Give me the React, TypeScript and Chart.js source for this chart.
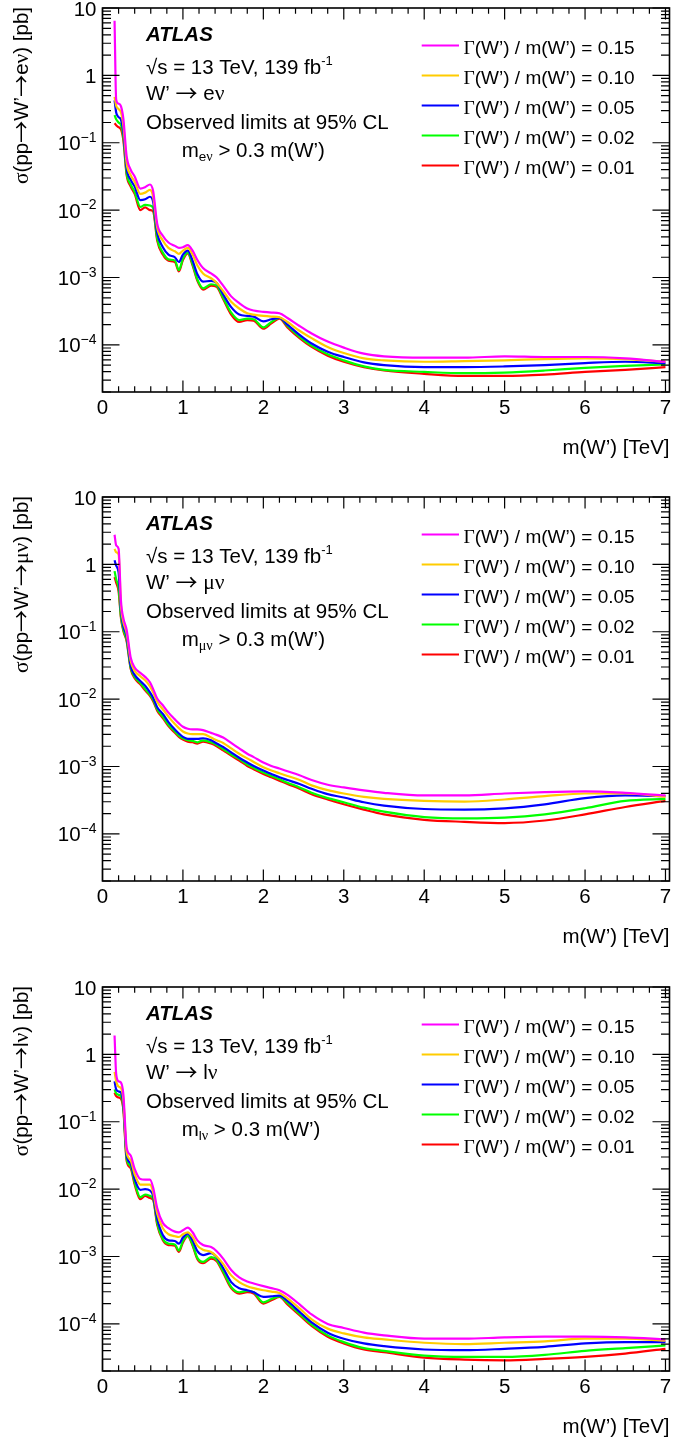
import React, { useEffect, useRef } from "react";
import { Chart, registerables } from "chart.js";

Chart.register(...registerables);

const SANS = '"Liberation Sans", Arial, Helvetica, sans-serif';
const SERIF = '"Liberation Serif", "Times New Roman", serif';
const ARROW_FONT = '"Noto Sans CJK JP", "DejaVu Sans", sans-serif';

// ---------------- data ----------------
const MASS_TEV = [0.15, 0.17, 0.2, 0.23, 0.26, 0.3, 0.35, 0.4, 0.47, 0.53, 0.59, 0.63, 0.68, 0.75, 0.82, 0.9, 0.95, 1.0, 1.06, 1.12, 1.18, 1.25, 1.35, 1.42, 1.5, 1.6, 1.7, 1.8, 1.88, 2.0, 2.1, 2.2, 2.3, 2.45, 2.6, 2.8, 3.0, 3.25, 3.5, 4.0, 4.5, 5.0, 5.5, 6.0, 6.5, 7.0];

// W' -> e nu
const EV_015 = [6.46, 0.437, 0.38, 0.347, 0.224, 0.0631, 0.0398, 0.0316, 0.0209, 0.0219, 0.024, 0.0191, 6.31e-3, 4.17e-3, 3.31e-3, 2.95e-3, 2.75e-3, 2.82e-3, 3.02e-3, 2.51e-3, 1.82e-3, 1.38e-3, 1.15e-3, 1.0e-3, 7.59e-4, 5.25e-4, 4.17e-4, 3.47e-4, 3.24e-4, 3.09e-4, 3.02e-4, 2.95e-4, 2.51e-4, 1.91e-4, 1.48e-4, 1.12e-4, 9.12e-5, 7.41e-5, 6.76e-5, 6.46e-5, 6.46e-5, 6.76e-5, 6.61e-5, 6.61e-5, 6.31e-5, 5.62e-5];
const EV_010 = [0.479, 0.355, 0.316, 0.282, 0.178, 0.0501, 0.0331, 0.0263, 0.0174, 0.0182, 0.02, 0.0158, 5.5e-3, 3.55e-3, 2.75e-3, 2.45e-3, 2.24e-3, 2.51e-3, 2.75e-3, 2.19e-3, 1.51e-3, 1.15e-3, 9.77e-4, 8.32e-4, 6.31e-4, 4.37e-4, 3.47e-4, 2.95e-4, 2.82e-4, 2.69e-4, 2.63e-4, 2.57e-4, 2.19e-4, 1.62e-4, 1.26e-4, 9.33e-5, 7.59e-5, 6.31e-5, 5.89e-5, 5.62e-5, 5.75e-5, 5.89e-5, 6.17e-5, 6.31e-5, 6.17e-5, 5.62e-5];
const EV_005 = [0.427, 0.282, 0.24, 0.219, 0.141, 0.0417, 0.0282, 0.0224, 0.0141, 0.0145, 0.0158, 0.0132, 4.57e-3, 2.82e-3, 2.19e-3, 2.0e-3, 1.7e-3, 2.19e-3, 2.51e-3, 1.78e-3, 1.12e-3, 8.71e-4, 8.91e-4, 8.32e-4, 5.62e-4, 3.63e-4, 2.82e-4, 2.69e-4, 2.63e-4, 2.24e-4, 2.4e-4, 2.51e-4, 2.0e-4, 1.41e-4, 1.05e-4, 7.94e-5, 6.61e-5, 5.5e-5, 5.01e-5, 4.68e-5, 4.68e-5, 4.79e-5, 5.01e-5, 5.37e-5, 5.62e-5, 5.37e-5];
const EV_002 = [0.257, 0.224, 0.2, 0.182, 0.12, 0.0355, 0.024, 0.0186, 0.0112, 0.012, 0.0117, 0.0107, 3.8e-3, 2.34e-3, 1.86e-3, 1.78e-3, 1.29e-3, 1.91e-3, 2.34e-3, 1.58e-3, 9.33e-4, 6.92e-4, 7.94e-4, 7.59e-4, 5.01e-4, 3.02e-4, 2.34e-4, 2.45e-4, 2.4e-4, 1.82e-4, 2.19e-4, 2.51e-4, 1.91e-4, 1.32e-4, 9.77e-5, 7.24e-5, 5.89e-5, 4.79e-5, 4.27e-5, 3.98e-5, 3.8e-5, 3.89e-5, 4.17e-5, 4.57e-5, 4.9e-5, 5.13e-5];
const EV_001 = [0.195, 0.182, 0.17, 0.158, 0.107, 0.0331, 0.0224, 0.0174, 0.01, 0.011, 0.01, 9.55e-3, 3.55e-3, 2.19e-3, 1.78e-3, 1.7e-3, 1.23e-3, 1.82e-3, 2.29e-3, 1.51e-3, 8.91e-4, 6.61e-4, 7.59e-4, 7.24e-4, 4.79e-4, 2.82e-4, 2.19e-4, 2.34e-4, 2.29e-4, 1.74e-4, 2.09e-4, 2.45e-4, 1.82e-4, 1.26e-4, 9.33e-5, 6.92e-5, 5.62e-5, 4.68e-5, 4.17e-5, 3.72e-5, 3.47e-5, 3.47e-5, 3.63e-5, 3.98e-5, 4.27e-5, 4.68e-5];

// W' -> mu nu
const MU_015 = [2.75, 1.91, 1.7, 0.282, 0.158, 0.107, 0.0417, 0.0295, 0.0245, 0.0214, 0.0178, 0.0141, 0.0102, 8.13e-3, 6.31e-3, 5.01e-3, 4.37e-3, 3.89e-3, 3.63e-3, 3.55e-3, 3.55e-3, 3.47e-3, 3.16e-3, 2.95e-3, 2.69e-3, 2.24e-3, 1.86e-3, 1.55e-3, 1.38e-3, 1.15e-3, 1.02e-3, 9.33e-4, 8.51e-4, 7.41e-4, 6.31e-4, 5.37e-4, 4.9e-4, 4.42e-4, 4.07e-4, 3.72e-4, 3.72e-4, 3.98e-4, 4.17e-4, 4.27e-4, 4.07e-4, 3.72e-4];
const MU_010 = [1.7, 1.51, 1.41, 0.24, 0.138, 0.0955, 0.0372, 0.0263, 0.0219, 0.0191, 0.0155, 0.0126, 9.12e-3, 7.08e-3, 5.5e-3, 4.27e-3, 3.72e-3, 3.31e-3, 3.09e-3, 3.02e-3, 3.02e-3, 3.02e-3, 2.69e-3, 2.45e-3, 2.24e-3, 1.86e-3, 1.55e-3, 1.32e-3, 1.17e-3, 9.77e-4, 8.71e-4, 7.94e-4, 7.24e-4, 6.31e-4, 5.25e-4, 4.47e-4, 3.98e-4, 3.55e-4, 3.31e-4, 3.09e-4, 3.02e-4, 3.24e-4, 3.63e-4, 3.98e-4, 3.98e-4, 3.55e-4];
const MU_005 = [1.15, 0.955, 0.759, 0.2, 0.12, 0.0851, 0.0316, 0.0229, 0.0186, 0.0158, 0.0126, 0.0105, 7.59e-3, 6.03e-3, 4.57e-3, 3.55e-3, 3.09e-3, 2.75e-3, 2.57e-3, 2.57e-3, 2.57e-3, 2.63e-3, 2.45e-3, 2.19e-3, 1.95e-3, 1.62e-3, 1.35e-3, 1.15e-3, 1.02e-3, 8.71e-4, 7.76e-4, 6.92e-4, 6.31e-4, 5.5e-4, 4.68e-4, 3.89e-4, 3.47e-4, 2.95e-4, 2.63e-4, 2.34e-4, 2.29e-4, 2.4e-4, 2.75e-4, 3.39e-4, 3.72e-4, 3.63e-4];
const MU_002 = [0.794, 0.603, 0.447, 0.166, 0.107, 0.0759, 0.0295, 0.0214, 0.0174, 0.0141, 0.0117, 9.77e-3, 7.08e-3, 5.5e-3, 4.17e-3, 3.31e-3, 2.88e-3, 2.63e-3, 2.45e-3, 2.4e-3, 2.29e-3, 2.45e-3, 2.29e-3, 2.09e-3, 1.82e-3, 1.51e-3, 1.29e-3, 1.07e-3, 9.55e-4, 8.13e-4, 7.24e-4, 6.46e-4, 5.75e-4, 4.9e-4, 4.07e-4, 3.39e-4, 2.95e-4, 2.45e-4, 2.14e-4, 1.78e-4, 1.7e-4, 1.74e-4, 1.95e-4, 2.4e-4, 3.09e-4, 3.31e-4];
const MU_001 = [0.646, 0.537, 0.398, 0.158, 0.102, 0.0724, 0.0282, 0.0204, 0.0166, 0.0135, 0.0112, 9.33e-3, 6.76e-3, 5.25e-3, 3.98e-3, 3.16e-3, 2.75e-3, 2.51e-3, 2.34e-3, 2.29e-3, 2.19e-3, 2.34e-3, 2.19e-3, 2.0e-3, 1.74e-3, 1.45e-3, 1.23e-3, 1.02e-3, 9.12e-4, 7.76e-4, 6.92e-4, 6.17e-4, 5.5e-4, 4.68e-4, 3.89e-4, 3.24e-4, 2.75e-4, 2.29e-4, 1.95e-4, 1.62e-4, 1.51e-4, 1.45e-4, 1.58e-4, 1.95e-4, 2.51e-4, 3.09e-4];

// W' -> l nu
const LV_015 = [1.91, 0.513, 0.398, 0.38, 0.251, 0.0417, 0.0316, 0.02, 0.0141, 0.0138, 0.0138, 0.0105, 5.25e-3, 3.16e-3, 2.63e-3, 2.34e-3, 2.29e-3, 2.45e-3, 2.69e-3, 2.29e-3, 1.74e-3, 1.48e-3, 1.38e-3, 1.2e-3, 9.33e-4, 6.31e-4, 4.9e-4, 4.27e-4, 3.98e-4, 3.63e-4, 3.39e-4, 3.16e-4, 2.69e-4, 1.95e-4, 1.38e-4, 1.0e-4, 8.71e-5, 7.41e-5, 6.76e-5, 6.03e-5, 6.03e-5, 6.31e-5, 6.46e-5, 6.46e-5, 6.31e-5, 5.89e-5];
const LV_010 = [0.55, 0.398, 0.331, 0.316, 0.209, 0.0355, 0.0269, 0.0166, 0.0117, 0.0117, 0.0117, 8.91e-3, 4.37e-3, 2.63e-3, 2.14e-3, 2.0e-3, 1.95e-3, 2.14e-3, 2.29e-3, 1.95e-3, 1.45e-3, 1.26e-3, 1.17e-3, 1.0e-3, 7.76e-4, 5.25e-4, 4.17e-4, 3.63e-4, 3.39e-4, 3.16e-4, 3.02e-4, 2.88e-4, 2.4e-4, 1.7e-4, 1.17e-4, 8.51e-5, 7.24e-5, 6.31e-5, 5.89e-5, 5.25e-5, 5.01e-5, 5.25e-5, 5.5e-5, 6.03e-5, 6.03e-5, 5.62e-5];
const LV_005 = [0.398, 0.302, 0.282, 0.269, 0.178, 0.0316, 0.024, 0.0141, 9.77e-3, 1.0e-2, 9.55e-3, 7.94e-3, 3.63e-3, 2.09e-3, 1.74e-3, 1.7e-3, 1.55e-3, 1.91e-3, 2.19e-3, 1.74e-3, 1.2e-3, 1.05e-3, 1.12e-3, 9.77e-4, 6.76e-4, 4.17e-4, 3.39e-4, 3.16e-4, 2.95e-4, 2.51e-4, 2.57e-4, 2.63e-4, 2.19e-4, 1.51e-4, 1.05e-4, 7.41e-5, 6.03e-5, 5.13e-5, 4.68e-5, 4.17e-5, 4.07e-5, 4.27e-5, 4.57e-5, 5.13e-5, 5.37e-5, 5.37e-5];
const LV_002 = [0.302, 0.263, 0.251, 0.24, 0.158, 0.0282, 0.0219, 0.0126, 7.59e-3, 8.32e-3, 7.94e-3, 7.24e-3, 3.16e-3, 1.82e-3, 1.55e-3, 1.51e-3, 1.23e-3, 1.7e-3, 2.04e-3, 1.51e-3, 9.55e-4, 8.32e-4, 9.77e-4, 8.91e-4, 6.03e-4, 3.55e-4, 2.95e-4, 3.09e-4, 2.95e-4, 2.09e-4, 2.34e-4, 2.57e-4, 2.04e-4, 1.41e-4, 9.77e-5, 6.76e-5, 5.37e-5, 4.37e-5, 3.98e-5, 3.39e-5, 3.24e-5, 3.24e-5, 3.47e-5, 3.98e-5, 4.37e-5, 4.79e-5];
const LV_001 = [0.269, 0.24, 0.229, 0.219, 0.148, 0.0263, 0.0204, 0.0117, 7.08e-3, 7.94e-3, 7.41e-3, 6.92e-3, 2.95e-3, 1.74e-3, 1.48e-3, 1.45e-3, 1.17e-3, 1.62e-3, 2.0e-3, 1.45e-3, 9.12e-4, 7.94e-4, 9.33e-4, 8.51e-4, 5.75e-4, 3.39e-4, 2.82e-4, 2.95e-4, 2.82e-4, 2.0e-4, 2.24e-4, 2.51e-4, 1.95e-4, 1.35e-4, 9.33e-5, 6.46e-5, 5.13e-5, 4.17e-5, 3.8e-5, 3.16e-5, 2.95e-5, 2.88e-5, 3.02e-5, 3.24e-5, 3.63e-5, 4.27e-5];

const WIDTH_LABELS = ["0.15", "0.10", "0.05", "0.02", "0.01"];
const X_MAJOR = [0, 1, 2, 3, 4, 5, 6, 7];
const Y_MAJOR = [10, 1, 0.1, 0.01, 0.001, 0.0001];
const Y_MAJOR_BASE = ["10", "1", "10", "10", "10", "10"];
const Y_MAJOR_EXP = ["", "", "\u22121", "\u22122", "\u22123", "\u22124"];
const Y_DECADES = [1e-5, 1e-4, 1e-3, 1e-2, 0.1, 1];
const X_MIN = 0;
const X_MAX = 7.05;
const Y_MIN = 2e-5;
const Y_MAX = 10;

type LepPart = [string, "sans" | "serif"];
const CHANNELS: { lep: LepPart[]; series: number[][] }[] = [
  { lep: [["e", "sans"], ["\u03bd", "serif"]], series: [EV_015, EV_010, EV_005, EV_002, EV_001] },
  { lep: [["\u03bc\u03bd", "serif"]], series: [MU_015, MU_010, MU_005, MU_002, MU_001] },
  { lep: [["l", "sans"], ["\u03bd", "serif"]], series: [LV_015, LV_010, LV_005, LV_002, LV_001] },
];

// ---------------- style ----------------
const LINE_COLORS = ["#ff00ff", "#ffcc00", "#0000ff", "#00ff00", "#ff0000"];
const PANEL_TOPS = [0, 488.5, 978.5];
const PANEL_W = 674;
const PANEL_H = 489;
const FS = 20.5;

type Seg = { t: string; font: string; dy?: number };
const sans = (s: number, st = "") => `${st} ${s}px ${SANS}`.trim();
const serif = (s: number) => `${s}px ${SERIF}`;
const arrowFont = (s: number) => `${s}px ${ARROW_FONT}`;

function drawRich(ctx: CanvasRenderingContext2D, segs: Seg[], x: number, y: number, align: "left" | "right" | "center") {
  let w = 0;
  for (const s of segs) {
    ctx.font = s.font;
    w += ctx.measureText(s.t).width;
  }
  let cx = align === "left" ? x : align === "right" ? x - w : x - w / 2;
  ctx.textAlign = "left";
  ctx.textBaseline = "alphabetic";
  for (const s of segs) {
    ctx.font = s.font;
    ctx.fillText(s.t, cx, y + (s.dy || 0));
    cx += ctx.measureText(s.t).width;
  }
}

function lepSegs(lep: LepPart[], size: number, dy = 0): Seg[] {
  return lep.map(([t, f]) => ({ t, font: f === "sans" ? sans(size) : serif(size * 1.05), dy }));
}

function decorPlugin(ch: { lep: LepPart[] }) {
  return {
    id: "atlasDecor",
    afterDraw(chart: any) {
      const ctx: CanvasRenderingContext2D = chart.ctx;
      const { left, right, top, bottom } = chart.chartArea;
      const xs = chart.scales.x;
      const ys = chart.scales.y;
      const h = bottom - top;
      const w = right - left;
      const xMaj = 0.03 * h;
      const xMin = xMaj / 2;
      const yMaj = 0.03 * w;
      const yMin = yMaj / 2;
      ctx.save();
      ctx.strokeStyle = "#000";
      ctx.fillStyle = "#000";

      // ticks
      ctx.lineWidth = 1.2;
      ctx.beginPath();
      for (const v of X_MAJOR) {
        const px = xs.getPixelForValue(v);
        ctx.moveTo(px, bottom);
        ctx.lineTo(px, bottom - xMaj);
        ctx.moveTo(px, top);
        ctx.lineTo(px, top + xMaj);
        for (let j = 1; j < 5; j++) {
          const mv = v + j * 0.2;
          if (mv > X_MAX) break;
          const pm = xs.getPixelForValue(mv);
          ctx.moveTo(pm, bottom);
          ctx.lineTo(pm, bottom - xMin);
          ctx.moveTo(pm, top);
          ctx.lineTo(pm, top + xMin);
        }
      }
      for (const v of Y_MAJOR) {
        const py = ys.getPixelForValue(v);
        ctx.moveTo(left, py);
        ctx.lineTo(left + yMaj, py);
        ctx.moveTo(right, py);
        ctx.lineTo(right - yMaj, py);
      }
      for (const d of Y_DECADES) {
        for (let k = 2; k <= 9; k++) {
          const v = k * d;
          if (v < Y_MIN * 0.999 || v > Y_MAX) continue;
          const py = ys.getPixelForValue(v);
          ctx.moveTo(left, py);
          ctx.lineTo(left + yMin, py);
          ctx.moveTo(right, py);
          ctx.lineTo(right - yMin, py);
        }
      }
      ctx.stroke();

      // frame
      ctx.lineWidth = 1.6;
      ctx.strokeRect(left, top, w, h);

      // x tick labels
      ctx.font = sans(FS);
      ctx.textAlign = "center";
      ctx.textBaseline = "alphabetic";
      for (const v of X_MAJOR) {
        ctx.fillText(String(v), xs.getPixelForValue(v), bottom + 21.5);
      }
      // y tick labels
      Y_MAJOR.forEach((v, i) => {
        const py = ys.getPixelForValue(v);
        const segs: Seg[] = [{ t: Y_MAJOR_BASE[i], font: sans(FS) }];
        if (Y_MAJOR_EXP[i]) segs.push({ t: Y_MAJOR_EXP[i], font: sans(14), dy: -8.5 });
        drawRich(ctx, segs, left - 6, py + 7.5, "right");
      });

      // x title
      drawRich(ctx, [{ t: "m(W\u2019) [TeV]", font: sans(FS) }], right, bottom + 61.5, "right");

      const arrow = arrowFont(22);

      // y title
      ctx.save();
      ctx.translate(28, top - 1);
      ctx.rotate(-Math.PI / 2);
      drawRich(
        ctx,
        [
          { t: "\u03c3", font: serif(FS * 1.05) },
          { t: "(pp", font: sans(FS) },
          { t: "\u2192", font: arrow, dy: 1 },
          { t: "W\u2019", font: sans(FS) },
          { t: "\u2192", font: arrow, dy: 1 },
          ...lepSegs(ch.lep, FS),
          { t: ") [pb]", font: sans(FS) },
        ],
        0,
        0,
        "right"
      );
      ctx.restore();

      // annotations
      const tx = 146;
      ctx.font = sans(FS, "italic bold");
      ctx.textAlign = "left";
      ctx.fillText("ATLAS", tx, top + 33);
      drawRich(
        ctx,
        [
          { t: "\u221as = 13 TeV, 139 fb", font: sans(FS) },
          { t: "-1", font: sans(13), dy: -9 },
        ],
        tx,
        top + 65.5,
        "left"
      );
      drawRich(
        ctx,
        [
          { t: "W\u2019 ", font: sans(FS) },
          { t: "\u2192", font: arrow, dy: 1 },
          { t: " ", font: sans(FS) },
          ...lepSegs(ch.lep, FS),
        ],
        tx,
        top + 92,
        "left"
      );
      drawRich(ctx, [{ t: "Observed limits at 95% CL", font: sans(FS) }], tx, top + 121, "left");
      drawRich(
        ctx,
        [
          { t: "m", font: sans(FS) },
          ...lepSegs(ch.lep, 13.5, 4),
          { t: " > 0.3 m(W\u2019)", font: sans(FS) },
        ],
        181.7,
        top + 149,
        "left"
      );

      // legend
      WIDTH_LABELS.forEach((lab, i) => {
        const by = top + 45.5 + 30 * i;
        ctx.strokeStyle = LINE_COLORS[i];
        ctx.lineWidth = 2;
        ctx.beginPath();
        ctx.moveTo(421.7, by - 8);
        ctx.lineTo(459, by - 8);
        ctx.stroke();
        ctx.fillStyle = "#000";
        drawRich(
          ctx,
          [
            { t: "\u0393", font: serif(19.5) },
            { t: "(W\u2019) / m(W\u2019) = " + lab, font: sans(19) },
          ],
          463.5,
          by,
          "left"
        );
      });
      ctx.restore();
    },
  };
}

function Panel({ idx }: { idx: number }) {
  const ref = useRef<HTMLCanvasElement>(null);
  useEffect(() => {
    const ch = CHANNELS[idx];
    const chart = new Chart(ref.current as HTMLCanvasElement, {
      type: "line",
      data: {
        datasets: ch.series.map((vals, k) => ({
          label: WIDTH_LABELS[k],
          data: MASS_TEV.map((m, i) => ({ x: m, y: vals[i] })),
          borderColor: LINE_COLORS[k],
          backgroundColor: LINE_COLORS[k],
          borderWidth: 2.2,
          pointRadius: 0,
          fill: false,
          cubicInterpolationMode: "monotone" as const,
        })),
      },
      options: {
        animation: false,
        responsive: true,
        maintainAspectRatio: false,
        events: [],
        layout: { padding: { left: 102.5, right: PANEL_W - 669.5, top: 8, bottom: PANEL_H - 392 } },
        plugins: { legend: { display: false }, tooltip: { enabled: false } },
        scales: {
          x: { type: "linear", min: X_MIN, max: X_MAX, display: false },
          y: { type: "logarithmic", min: Y_MIN, max: Y_MAX, display: false },
        },
      },
      plugins: [decorPlugin(ch)],
    } as any);
    return () => chart.destroy();
  }, [idx]);
  return (
    <div style={{ position: "absolute", left: 0, top: PANEL_TOPS[idx], width: PANEL_W, height: PANEL_H }}>
      <canvas ref={ref} />
    </div>
  );
}

export default function App() {
  return (
    <div style={{ position: "absolute", left: 0, top: 0, width: PANEL_W, height: 1443, overflow: "hidden", background: "#fff" }}>
      <Panel idx={0} />
      <Panel idx={1} />
      <Panel idx={2} />
    </div>
  );
}
